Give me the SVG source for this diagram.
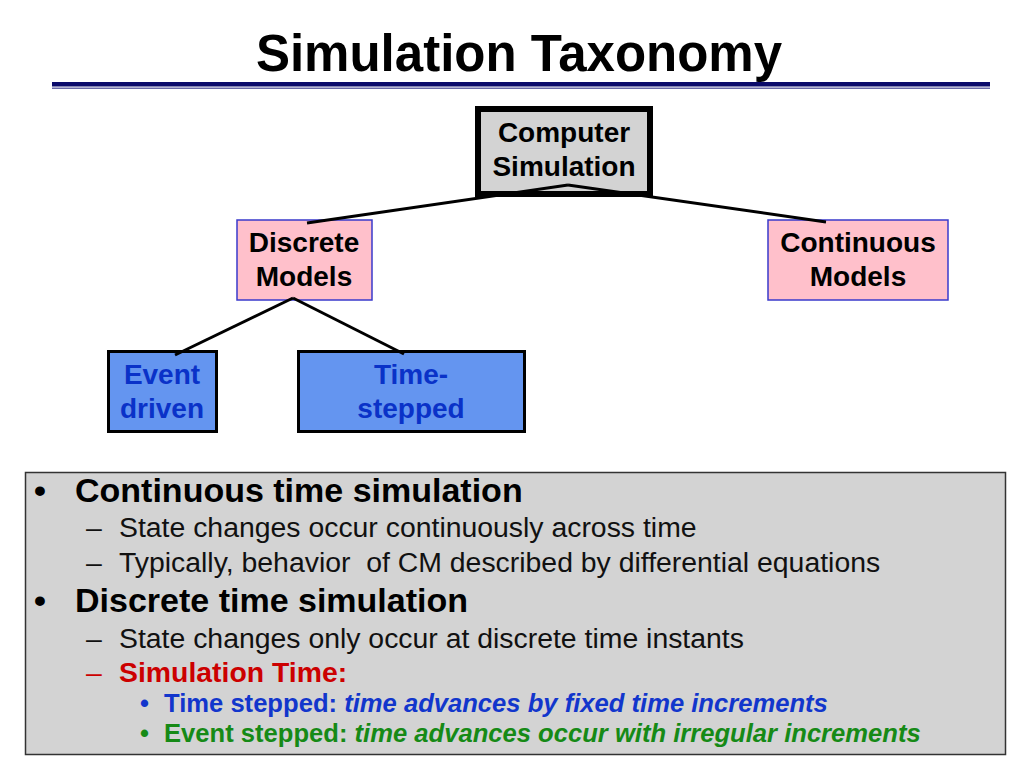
<svg xmlns="http://www.w3.org/2000/svg" width="1024" height="768" viewBox="0 0 1024 768">
<style>
text{font-family:"Liberation Sans",Arial,sans-serif}
.title{font-size:51px;font-weight:bold;fill:#000}
.node{font-size:28px;font-weight:bold;text-anchor:middle}
.ntxt{fill:#000}
.btxt{fill:#0a32c8}
.pink{fill:#ffc0cb;stroke:#3a3acc;stroke-width:1.5}
.blue{fill:#6495f0;stroke:#000;stroke-width:3}
.conn{stroke:#000;stroke-width:3;fill:none}
.h1{font-size:34px;font-weight:bold;fill:#000}
.h2{font-size:28.4px;fill:#111}
.red{fill:#cc0000}
.h3{font-size:25.6px;font-weight:bold}
.tblue{fill:#1236cc}
.tgreen{fill:#168a16}
</style>
<rect width="1024" height="768" fill="#fff"/>
<g id="title">
<text class="title" x="519" y="71" text-anchor="middle">Simulation Taxonomy</text>
<rect x="52" y="82" width="938" height="4.5" fill="#0a0a6a"/>
<rect x="52" y="87.5" width="938" height="1.5" fill="#6a6aa8"/>
</g>
<g id="computer-simulation">
<rect x="478" y="109" width="172" height="85" fill="#d3d3d3" stroke="#000" stroke-width="6"/>
<text class="node ntxt" x="564" y="142">Computer</text>
<text class="node ntxt" x="564" y="176">Simulation</text>
</g>
<g id="discrete-models">
<rect class="pink" x="237" y="220" width="135" height="80"/>
<text class="node ntxt" x="304" y="252">Discrete</text>
<text class="node ntxt" x="304" y="286">Models</text>
</g>
<g id="continuous-models">
<rect class="pink" x="768" y="220" width="180" height="80"/>
<text class="node ntxt" x="858" y="252">Continuous</text>
<text class="node ntxt" x="858" y="286">Models</text>
</g>
<g id="event-driven">
<rect class="blue" x="108.5" y="351.5" width="108" height="80"/>
<text class="node btxt" x="162" y="384">Event</text>
<text class="node btxt" x="162" y="418">driven</text>
</g>
<g id="time-stepped">
<rect class="blue" x="298.5" y="351.5" width="226" height="80"/>
<text class="node btxt" x="411" y="384">Time-</text>
<text class="node btxt" x="411" y="418">stepped</text>
</g>
<g id="connectors">
<line class="conn" x1="568" y1="185" x2="307" y2="223"/>
<line class="conn" x1="568" y1="185" x2="826" y2="222"/>
<line class="conn" x1="293" y1="298" x2="175" y2="355"/>
<line class="conn" x1="293" y1="298" x2="404" y2="354"/>
</g>
<g id="notes">
<rect x="25.5" y="472.5" width="980" height="282" fill="#d3d3d3" stroke="#333" stroke-width="1.5"/>
<text class="h1" x="34" y="502">•</text>
<text class="h1" x="75" y="502">Continuous time simulation</text>
<text class="h2" x="86" y="537">–</text>
<text class="h2" x="119" y="537">State changes occur continuously across time</text>
<text class="h2" x="86" y="572">–</text>
<text class="h2" x="119" y="572">Typically, behavior&#160; of CM described by differential equations</text>
<text class="h1" x="34" y="612">•</text>
<text class="h1" x="75" y="612">Discrete time simulation</text>
<text class="h2" x="86" y="648">–</text>
<text class="h2" x="119" y="648">State changes only occur at discrete time instants</text>
<text class="h2 red" x="86" y="682">–</text>
<text class="h2 red" x="119" y="682" font-weight="bold">Simulation Time:</text>
<text class="h3 tblue" x="140" y="712">•</text>
<text class="h3 tblue" x="164" y="712">Time stepped: <tspan font-style="italic">time advances by fixed time increments</tspan></text>
<text class="h3 tgreen" x="140" y="742">•</text>
<text class="h3 tgreen" x="164" y="742">Event stepped: <tspan font-style="italic">time advances occur with irregular increments</tspan></text>
</g>
</svg>
